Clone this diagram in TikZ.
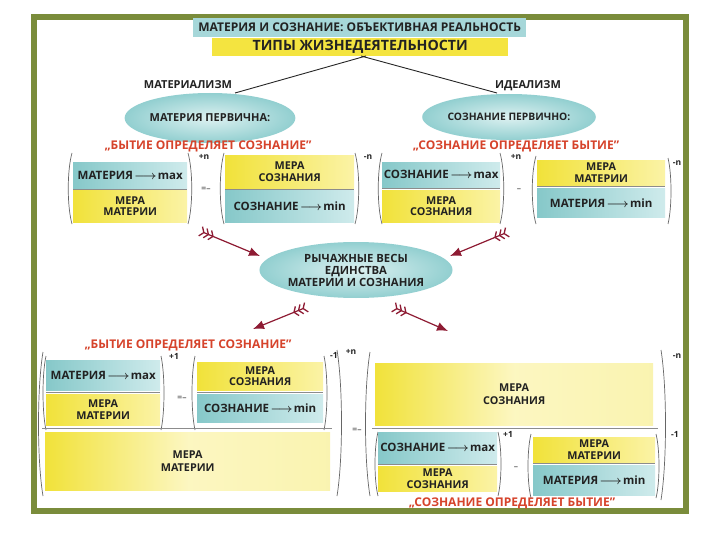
\documentclass[tikz,border=0pt]{standalone}
\usepackage{fontspec}
\setmainfont{Open Sans}
\usetikzlibrary{shapes.geometric,arrows.meta}
\definecolor{frameg}{HTML}{7A8C3B}
\definecolor{tealA}{HTML}{86C8C9}
\definecolor{tealB}{HTML}{CFEBEC}
\definecolor{yelA}{HTML}{F1E23A}
\definecolor{yelB}{HTML}{FBF3A6}
\definecolor{hdteal}{HTML}{A6D7D9}
\definecolor{hdyel}{HTML}{F4E440}
\definecolor{redq}{HTML}{D6432B}
\definecolor{arrc}{HTML}{8E1B33}
\definecolor{txt}{HTML}{222222}
\definecolor{ellA}{HTML}{92CFD0}
\definecolor{ellB}{HTML}{DDF1F1}
\newcommand\bx[7]{\node[#2, anchor=north west, minimum width={(#5-#3)*1pt}, minimum height={(#6-#4)*1pt}] (#1) at (#3,#4) {#7};}
\newcommand\mylp[4]{\draw[parline] ({#1+#4},#2) .. controls (#1,{#2+0.25*(#3-#2)}) and (#1,{#2+0.75*(#3-#2)}) .. ({#1+#4},#3);}
\newcommand\myrp[4]{\draw[parline] ({#1-#4},#2) .. controls (#1,{#2+0.25*(#3-#2)}) and (#1,{#2+0.75*(#3-#2)}) .. ({#1-#4},#3);}
\newcommand\ar{\hspace{0.12em}{\boldmath$\longrightarrow$}\hspace{0.1em}}
\begin{document}
\begin{tikzpicture}[x=1pt,y=-1pt,
  tbox/.style={left color=tealA, right color=tealB, inner sep=0pt, align=center, text=txt, font=\bfseries\fontsize{11.5}{12}\selectfont},
  ybox/.style={left color=yelA, right color=yelB, inner sep=0pt, align=center, text=txt, font=\bfseries\fontsize{10.8}{11.6}\selectfont},
  bigy/.style={left color=yelA, right color=yelA!40!white, middle color=yelB!70!white, inner sep=0pt, align=center, text=txt, font=\bfseries\fontsize{10.8}{13}\selectfont},
  ell/.style={ellipse, inner color=ellB, outer color=ellA, inner sep=0pt, align=center, text=txt},
  lbl/.style={text=txt, inner sep=0pt, font=\bfseries\fontsize{11}{12}\selectfont},
  redt/.style={text=redq, inner sep=0pt, font=\bfseries\fontsize{12}{13}\selectfont},
  sup/.style={text=txt, inner sep=0pt, font=\bfseries\fontsize{8.5}{9}\selectfont},
  eqm/.style={text=black!55, inner sep=0pt, font=\bfseries\fontsize{8.5}{9}\selectfont},
  parline/.style={draw=black!60, line width=0.7pt},
  fbar/.style={draw=black!45, line width=0.6pt},
  fletch/.style={draw=arrc, line width=1.2pt, {Straight Barb[reversed,length=3.5pt,width=10pt,line width=1.3pt] Straight Barb[reversed,length=3.5pt,width=10pt,line width=1.3pt] Straight Barb[reversed,length=3.5pt,width=10pt,line width=1.3pt]}-{Latex[length=11pt,width=9pt]}}
]
\useasboundingbox (0,0) rectangle (720,540);
\fill[white] (0,0) rectangle (720,540);
\draw[frameg, line width=6pt] (34,17) rectangle (686,511);

% header
\bx{h1}{fill=hdteal, inner sep=0pt, text=txt, font=\bfseries\fontsize{12}{12}\selectfont}{193}{18}{526}{37}{МАТЕРИЯ И СОЗНАНИЕ: ОБЪЕКТИВНАЯ РЕАЛЬНОСТЬ}
\bx{h2}{fill=hdyel, inner sep=0pt, text=txt, font=\bfseries\fontsize{14.2}{15}\selectfont}{212}{38}{508}{56}{ТИПЫ ЖИЗНЕДЕЯТЕЛЬНОСТИ}

\node[lbl] (matlbl) at (188,85) {МАТЕРИАЛИЗМ};
\node[lbl] (idlbl) at (528,86) {ИДЕАЛИЗМ};
\coordinate (apexL) at (366,56);
\coordinate (apexR) at (361,56);
\coordinate (endL) at (235,93);
\coordinate (endR) at (497,93);
\draw[black!85, line width=0.9pt] (apexL) -- (endL);
\draw[black!85, line width=0.9pt] (apexR) -- (endR);

\node[ell, minimum width=150pt, minimum height=50pt, font=\bfseries\fontsize{11}{12}\selectfont] (e1) at (210,118) {МАТЕРИЯ ПЕРВИЧНА:};
\node[ell, minimum width=126pt, minimum height=46pt, font=\bfseries\fontsize{10.3}{11}\selectfont] (e2) at (509,117) {СОЗНАНИЕ ПЕРВИЧНО:};

\node[redt] (q1) at (208,146) {„БЫТИЕ ОПРЕДЕЛЯЕТ СОЗНАНИЕ”};
\node[redt] (q2) at (516,146) {„СОЗНАНИЕ ОПРЕДЕЛЯЕТ БЫТИЕ”};

% top-left formula
\mylp{67}{153}{224}{5}
\bx{a1}{tbox}{73}{162}{187}{188}{МАТЕРИЯ\ar max}
\bx{a2}{ybox}{73}{190}{187}{222}{МЕРА\\МАТЕРИИ}
\draw[fbar] (73,189) -- (187,189);
\myrp{193}{153}{224}{5}
\node[sup] (a3) at (204,157) {+n};
\node[eqm] (a4) at (206,189) {=–};
\mylp{219}{153}{224}{5}
\bx{a5}{ybox}{225}{155}{354}{188}{МЕРА\\СОЗНАНИЯ}
\bx{a6}{tbox}{225}{190}{354}{222}{СОЗНАНИЕ\ar min}
\draw[fbar] (225,189) -- (354,189);
\myrp{360}{153}{224}{5}
\node[sup] (a7) at (368,157) {-n};

% top-right formula
\mylp{377}{153}{224}{5}
\bx{b1}{tbox}{382}{162}{500}{187}{СОЗНАНИЕ\ar max}
\bx{b2}{ybox}{382}{190}{500}{222}{МЕРА\\СОЗНАНИЯ}
\draw[fbar] (382,188.5) -- (500,188.5);
\myrp{505}{153}{224}{5}
\node[sup] (b3) at (516,157) {+n};
\node[eqm] (b4) at (519,190) {–~};
\mylp{531}{156}{224}{5}
\bx{b5}{ybox}{537}{160}{665}{185}{МЕРА\\МАТЕРИИ}
\bx{b6}{tbox}{537}{188}{665}{217}{МАТЕРИЯ\ar min}
\draw[fbar] (537,186.5) -- (665,186.5);
\myrp{672}{158}{224}{4}
\node[sup] (b7) at (677,163) {-n};

% center
\node[ell, minimum width=174pt, minimum height=56pt, font=\bfseries\fontsize{11.3}{12}\selectfont] (c) at (356,270) {РЫЧАЖНЫЕ ВЕСЫ\\ЕДИНСТВА\\МАТЕРИИ И СОЗНАНИЯ};

\coordinate (t1) at (200,231); \coordinate (h1a) at (260,256);
\coordinate (t2) at (508,232); \coordinate (h2a) at (450,256);
\coordinate (t3) at (307,307); \coordinate (h3a) at (253,329);
\coordinate (t4) at (393,307); \coordinate (h4a) at (448,331);
\draw[fletch] (t1) -- (h1a);
\draw[fletch] (t2) -- (h2a);
\draw[fletch] (t3) -- (h3a);
\draw[fletch] (t4) -- (h4a);

% bottom left
\node[redt] (q3) at (188,345) {„БЫТИЕ ОПРЕДЕЛЯЕТ СОЗНАНИЕ”};
\mylp{37}{352}{496}{6}
\mylp{42}{356}{430}{4}
\bx{d1}{tbox}{46}{360}{160}{390}{МАТЕРИЯ\ar max}
\bx{d2}{ybox}{46}{394}{160}{425}{МЕРА\\МАТЕРИИ}
\draw[fbar] (46,392) -- (160,392);
\myrp{165}{356}{430}{4}
\node[sup] (d3) at (174,356) {+1};
\node[eqm] (d4) at (182,398) {=–};
\mylp{191}{356}{430}{4}
\bx{d5}{ybox}{197}{362}{323}{390}{МЕРА\\СОЗНАНИЯ}
\bx{d6}{tbox}{197}{394}{323}{422}{СОЗНАНИЕ\ar min}
\draw[fbar] (197,392) -- (323,392);
\myrp{328}{356}{430}{4}
\node[sup] (d7) at (334,355) {-1};
\draw[fbar] (42,428.5) -- (332,428.5);
\bx{d8}{bigy}{45}{432}{330}{490}{МЕРА\\МАТЕРИИ}
\myrp{343}{350}{496}{6}
\node[sup] (d9) at (351,352) {+n};
\node[eqm] (d10) at (357,430) {=–};

% bottom right
\mylp{364}{352}{496}{6}
\bx{f1}{bigy}{375}{363}{653}{425}{МЕРА\\СОЗНАНИЯ}
\draw[fbar] (372,428.5) -- (658,428.5);
\mylp{374}{432}{496}{4}
\bx{f2}{tbox}{378}{432}{497}{463}{СОЗНАНИЕ\ar max}
\bx{f3}{ybox}{378}{466}{497}{491}{МЕРА\\СОЗНАНИЯ}
\draw[fbar] (378,464.5) -- (497,464.5);
\myrp{502}{432}{496}{4}
\node[sup] (f4) at (508,434) {+1};
\node[eqm] (f5) at (516,468) {–~};
\mylp{527}{434}{498}{4}
\bx{f6}{ybox}{533}{437}{655}{462}{МЕРА\\МАТЕРИИ}
\bx{f7}{tbox}{533}{465}{655}{495}{МАТЕРИЯ\ar min}
\draw[fbar] (533,463.5) -- (655,463.5);
\myrp{660}{434}{498}{4}
\node[sup] (f8) at (675,434) {-1};
\myrp{667}{350}{500}{6}
\node[sup] (f9) at (677,356) {-n};
\node[redt] (q4) at (512,503) {„СОЗНАНИЕ ОПРЕДЕЛЯЕТ БЫТИЕ”};
\end{tikzpicture}
\end{document}
